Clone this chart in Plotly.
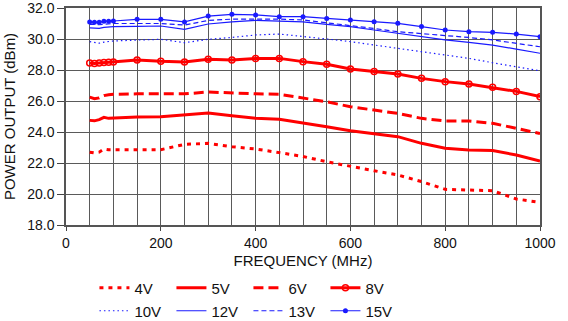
import plotly.graph_objects as go

freq = [50, 60, 70, 80, 90, 100, 150, 200, 250, 300, 350, 400, 450, 500,
        550, 600, 650, 700, 750, 800, 850, 900, 950, 1000]

v4 = [22.70, 22.65, 22.70, 22.90, 22.85, 22.85, 22.82, 22.86, 23.20, 23.27, 23.05, 22.90,
      22.67, 22.42, 22.08, 21.78, 21.50, 21.23, 20.80, 20.30, 20.26, 20.21, 19.68, 19.46]
v5 = [24.75, 24.72, 24.80, 24.95, 24.88, 24.90, 24.97, 24.99, 25.10, 25.22, 25.05, 24.88,
      24.82, 24.60, 24.34, 24.08, 23.90, 23.70, 23.27, 22.95, 22.84, 22.80, 22.52, 22.13]
v6 = [26.25, 26.15, 26.20, 26.35, 26.40, 26.43, 26.46, 26.44, 26.46, 26.58, 26.50, 26.46,
      26.43, 26.20, 25.95, 25.63, 25.42, 25.20, 24.88, 24.71, 24.71, 24.56, 24.24, 23.90]
v8 = [28.45, 28.42, 28.45, 28.48, 28.50, 28.52, 28.65, 28.56, 28.52, 28.69, 28.65, 28.75,
      28.75, 28.54, 28.37, 28.06, 27.91, 27.74, 27.46, 27.25, 27.10, 26.88, 26.62, 26.28]
v10 = [29.83, 29.80, 29.73, 29.80, 29.85, 29.87, 29.93, 29.98, 29.76, 29.98, 30.10, 30.26,
       30.32, 30.18, 30.00, 29.83, 29.60, 29.40, 29.18, 28.97, 28.75, 28.47, 28.20, 27.95]
v12 = [30.72, 30.70, 30.68, 30.75, 30.78, 30.80, 30.82, 30.84, 30.62, 30.97, 31.10, 31.20,
       31.15, 31.10, 30.95, 30.80, 30.58, 30.37, 30.15, 29.94, 29.78, 29.60, 29.35, 29.08]
v13 = [30.95, 30.93, 30.92, 30.95, 30.98, 31.00, 31.00, 31.00, 30.90, 31.20, 31.28, 31.30,
       31.28, 31.23, 31.05, 30.90, 30.68, 30.47, 30.35, 30.26, 30.10, 29.94, 29.72, 29.50]
v15 = [31.10, 31.08, 31.08, 31.15, 31.15, 31.16, 31.27, 31.27, 31.10, 31.48, 31.59, 31.55,
       31.44, 31.44, 31.33, 31.23, 31.12, 31.01, 30.80, 30.58, 30.47, 30.43, 30.32, 30.15]

RED = "#ff0000"
BLUE = "#1a1aff"

series = [
    ("4V", v4, dict(color=RED, width=3, dash="4px,5px"), None, "legend"),
    ("5V", v5, dict(color=RED, width=3), None, "legend"),
    ("6V", v6, dict(color=RED, width=3, dash="10px,5px"), None, "legend"),
    ("8V", v8, dict(color=RED, width=3), dict(symbol="circle-open", size=6, color=RED, line=dict(width=1.5, color=RED)), "legend"),
    ("10V", v10, dict(color=BLUE, width=1.2, dash="1.5px,3px"), None, "legend2"),
    ("12V", v12, dict(color=BLUE, width=1.2), None, "legend2"),
    ("13V", v13, dict(color=BLUE, width=1.2, dash="5px,3px"), None, "legend2"),
    ("15V", v15, dict(color=BLUE, width=1.2), dict(symbol="circle", size=5, color=BLUE), "legend2"),
]

fig = go.Figure()
for name, ys, line, marker, lg in series:
    fig.add_trace(go.Scatter(
        x=freq, y=ys, name=name, line=line, legend=lg,
        mode="lines+markers" if marker else "lines",
        marker=marker if marker else None,
    ))

leg_common = dict(
    orientation="h", xanchor="left", yanchor="middle",
    xref="paper", yref="container",
    entrywidth=32, entrywidthmode="pixels", itemwidth=30,
    font=dict(size=15, color="#111"), bgcolor="rgba(0,0,0,0)",
)

fig.update_layout(
    width=568, height=321,
    margin=dict(l=66, r=28, t=8, b=96, autoexpand=False),
    paper_bgcolor="white", plot_bgcolor="white",
    font=dict(family="Liberation Sans, Arial, sans-serif", size=14, color="#111"),
    showlegend=True,
    legend=dict(x=0.06, y=1 - 288 / 321, **leg_common),
    legend2=dict(x=0.06, y=1 - 311 / 321, **leg_common),
    xaxis=dict(
        range=[0, 1000], tickvals=[0, 200, 400, 600, 800, 1000],
        ticks="outside", ticklen=4, tickcolor="#444",
        showline=True, linecolor="#555", linewidth=1.5, mirror=True,
        showgrid=True, gridcolor="#5a5a5a", gridwidth=1.2,
        minor=dict(dtick=50, tick0=0, showgrid=True, gridcolor="#5a5a5a", gridwidth=1.2, ticks=""),
        title=dict(text="FREQUENCY (MHz)", standoff=6, font=dict(size=15)),
        zeroline=False, tickfont=dict(size=14), ticklabeloverflow="allow",
    ),
    yaxis=dict(
        range=[18, 32], tickvals=[18, 20, 22, 24, 26, 28, 30, 32], tickformat=".1f",
        ticks="outside", ticklen=7, tickcolor="#444",
        showline=True, linecolor="#555", linewidth=1.5, mirror=True,
        showgrid=True, gridcolor="#5a5a5a", gridwidth=1.2,
        title=dict(text="POWER OUTPUT (dBm)", standoff=8, font=dict(size=15)),
        zeroline=False, tickfont=dict(size=14), ticklabeloverflow="allow",
    ),
)

fig.write_html("out.html")
